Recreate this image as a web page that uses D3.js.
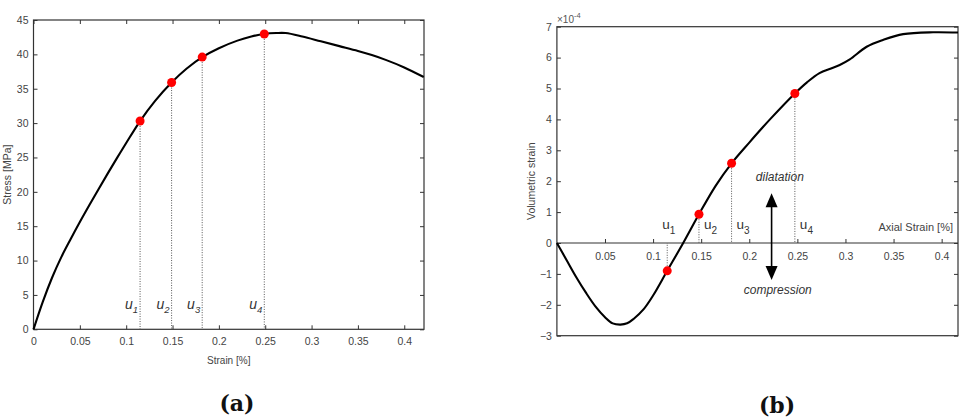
<!DOCTYPE html>
<html>
<head>
<meta charset="utf-8">
<script src="https://cdn.jsdelivr.net/npm/d3@7"></script>
<style>
  body { margin: 0; background: #fff; }
  svg { display: block; font-family: "Liberation Sans", Arial, sans-serif; }
  .tick text { fill: #444; font-size: 10.5px; }
  .tick line { stroke: #333; }
  .panel-tag { font-family: "DejaVu Serif", serif; font-weight: bold; }
</style>
</head>
<body>
<svg id="chart" width="966" height="418"></svg>
<script>
// (a) stress - strain curve
var strainA = [0, 0.01, 0.02, 0.03, 0.04, 0.05, 0.06, 0.07, 0.08, 0.09, 0.1, 0.115, 0.131, 0.149, 0.165, 0.182, 0.2, 0.22, 0.235, 0.249, 0.262, 0.272, 0.29, 0.31, 0.33, 0.35, 0.365, 0.38, 0.40, 0.421];
var stressA = [0, 4.0, 7.5, 10.5, 13.1, 15.6, 18.0, 20.35, 22.65, 24.9, 27.1, 30.3, 33.2, 35.9, 37.9, 39.6, 40.9, 42, 42.6, 42.97, 43.1, 43.1, 42.6, 41.9, 41.2, 40.5, 39.9, 39.2, 38.1, 36.7];
var uStrainA = [0.115, 0.149, 0.182, 0.249];
var uStressA = [30.3, 35.9, 39.6, 42.97];

// (b) volumetric strain (x 1e-4) vs axial strain
var strainB = [0, 0.01, 0.02, 0.03, 0.04, 0.05, 0.058, 0.066, 0.073, 0.08, 0.09, 0.1, 0.1147, 0.1313, 0.1477, 0.165, 0.1816, 0.2, 0.2215, 0.2474, 0.26, 0.273, 0.285, 0.294, 0.3045, 0.322, 0.339, 0.36, 0.391, 0.417];
var volB    = [0, -0.55, -1.1, -1.6, -2.05, -2.4, -2.6, -2.64, -2.6, -2.45, -2.15, -1.7, -0.9, 0, 0.93, 1.85, 2.58, 3.25, 4.0, 4.84, 5.2, 5.5, 5.65, 5.76, 5.94, 6.35, 6.57, 6.76, 6.82, 6.81];
var uStrainB = [0.1147, 0.1477, 0.1816, 0.2474];
var uVolB = [-0.9, 0.93, 2.58, 4.84];

var uLabels = ["1", "2", "3", "4"];
var ticksXA = [0, 0.05, 0.1, 0.15, 0.2, 0.25, 0.3, 0.35, 0.4];
var ticksYA = [0, 5, 10, 15, 20, 25, 30, 35, 40, 45];
var ticksXB = [0.05, 0.1, 0.15, 0.2, 0.25, 0.3, 0.35, 0.4];
var ticksYB = [-3, -2, -1, 0, 1, 2, 3, 4, 5, 6, 7];

var svg = d3.select("#chart");
var fmt = function(d) { return String(+d.toFixed(2)); };

function cleanAxis(g) {
    g.select(".domain").remove();
}

// ---------- panel (a) ----------
var xA = d3.scaleLinear().domain([0, 0.4213]).range([33.5, 424]);
var yA = d3.scaleLinear().domain([0, 45]).range([329.3, 20]);

var gA = svg.append("g");

gA.append("g").attr("transform", "translate(0," + yA(0) + ")")
    .call(d3.axisBottom(xA).tickValues(ticksXA).tickFormat(fmt).tickSize(-4).tickPadding(8))
    .call(cleanAxis);
gA.append("g").attr("transform", "translate(0," + yA(45) + ")")
    .call(d3.axisTop(xA).tickValues(ticksXA).tickFormat("").tickSize(-4))
    .call(cleanAxis);
gA.append("g").attr("transform", "translate(" + xA(0) + ",0)")
    .call(d3.axisLeft(yA).tickValues(ticksYA).tickSize(-4).tickPadding(5))
    .call(cleanAxis);
gA.append("g").attr("transform", "translate(" + xA.range()[1] + ",0)")
    .call(d3.axisRight(yA).tickValues(ticksYA).tickFormat("").tickSize(-4))
    .call(cleanAxis);

gA.append("rect")
    .attr("x", xA.range()[0]).attr("y", yA.range()[1])
    .attr("width", xA.range()[1] - xA.range()[0])
    .attr("height", yA.range()[0] - yA.range()[1])
    .attr("fill", "none").attr("stroke", "#333").attr("stroke-width", 1.2);

// dotted markers
gA.selectAll(".vline").data(uStrainA).enter().append("line")
    .attr("x1", d => xA(d)).attr("x2", d => xA(d))
    .attr("y1", (d, i) => yA(uStressA[i])).attr("y2", yA(0))
    .attr("stroke", "#555").attr("stroke-width", 1).attr("stroke-dasharray", "1,1.5");

var lineA = d3.line().x((d, i) => xA(strainA[i])).y(d => yA(d)).curve(d3.curveCatmullRom.alpha(0.5));
gA.append("path").datum(stressA).attr("d", lineA)
    .attr("fill", "none").attr("stroke", "#000").attr("stroke-width", 2.1);

gA.selectAll(".dot").data(uStrainA).enter().append("circle")
    .attr("cx", d => xA(d)).attr("cy", (d, i) => yA(uStressA[i])).attr("r", 4.5)
    .attr("fill", "#ff0000");

var uA = gA.selectAll(".ulab").data(uLabels).enter().append("text")
    .attr("x", (d, i) => xA(uStrainA[i]) - 2).attr("y", 308.5)
    .attr("text-anchor", "end").attr("font-style", "italic")
    .attr("font-size", 14).attr("fill", "#333")
    .text("u");
uA.append("tspan").attr("dy", 4).attr("font-size", 9.5).text(d => d);

gA.append("text").attr("x", (xA.range()[0] + xA.range()[1]) / 2).attr("y", 364)
    .attr("text-anchor", "middle").attr("font-size", 10).attr("fill", "#444")
    .text("Strain [%]");
gA.append("text").attr("transform", "translate(11," + (yA.range()[0] + yA.range()[1]) / 2 + ") rotate(-90)")
    .attr("text-anchor", "middle").attr("font-size", 10.5).attr("fill", "#444")
    .text("Stress [MPa]");

svg.append("text").attr("class", "panel-tag").attr("x", 237).attr("y", 411)
    .attr("text-anchor", "middle").attr("font-size", 22).attr("fill", "#111")
    .text("(a)");

// ---------- panel (b) ----------
var xB = d3.scaleLinear().domain([0, 0.417]).range([556.9, 958]);
var yB = d3.scaleLinear().domain([-3, 7]).range([335.7, 26.7]);

var gB = svg.append("g");

gB.append("g").attr("transform", "translate(0," + yB(0) + ")")
    .call(d3.axisBottom(xB).tickValues(ticksXB).tickFormat(fmt).tickSize(-4).tickPadding(10))
    .call(cleanAxis);
gB.append("line")
    .attr("x1", xB.range()[0]).attr("x2", xB.range()[1])
    .attr("y1", yB(0)).attr("y2", yB(0))
    .attr("stroke", "#333").attr("stroke-width", 1.2);
gB.append("g").attr("transform", "translate(" + xB(0) + ",0)")
    .call(d3.axisLeft(yB).tickValues(ticksYB).tickSize(-4).tickPadding(5))
    .call(cleanAxis);
gB.append("g").attr("transform", "translate(" + xB.range()[1] + ",0)")
    .call(d3.axisRight(yB).tickValues(ticksYB).tickFormat("").tickSize(-4))
    .call(cleanAxis);

gB.append("rect")
    .attr("x", xB.range()[0]).attr("y", yB.range()[1])
    .attr("width", xB.range()[1] - xB.range()[0])
    .attr("height", yB.range()[0] - yB.range()[1])
    .attr("fill", "none").attr("stroke", "#333").attr("stroke-width", 1.2);

gB.selectAll(".vline").data(uStrainB).enter().append("line")
    .attr("x1", d => xB(d)).attr("x2", d => xB(d))
    .attr("y1", (d, i) => yB(uVolB[i])).attr("y2", yB(0))
    .attr("stroke", "#555").attr("stroke-width", 1).attr("stroke-dasharray", "1,1.5");

var lineB = d3.line().x((d, i) => xB(strainB[i])).y(d => yB(d)).curve(d3.curveCatmullRom.alpha(0.5));
gB.append("path").datum(volB).attr("d", lineB)
    .attr("fill", "none").attr("stroke", "#000").attr("stroke-width", 2.1);

gB.selectAll(".dot").data(uStrainB).enter().append("circle")
    .attr("cx", d => xB(d)).attr("cy", (d, i) => yB(uVolB[i])).attr("r", 4.5)
    .attr("fill", "#ff0000");

var uB = gB.selectAll(".ulab").data(uLabels).enter().append("text")
    .attr("x", (d, i) => xB(uStrainB[i]) + (i === 0 ? -5 : 5)).attr("y", 228.5)
    .attr("font-size", 13.5).attr("fill", "#333")
    .text("u");
uB.append("tspan").attr("dy", 5).attr("font-size", 10).text(d => d);

gB.append("text").attr("x", 953).attr("y", 231)
    .attr("text-anchor", "end").attr("font-size", 11).attr("fill", "#444")
    .text("Axial Strain [%]");
gB.append("text").attr("transform", "translate(535," + (yB.range()[0] + yB.range()[1]) / 2 + ") rotate(-90)")
    .attr("text-anchor", "middle").attr("font-size", 10.5).attr("fill", "#444")
    .text("Volumetric strain");

var expo = gB.append("text").attr("x", 557).attr("y", 22.5)
    .attr("font-size", 10).attr("fill", "#555").text("\u00d710");
expo.append("tspan").attr("dy", -5).attr("font-size", 7.5).text("-4");

// dilatation / compression arrow
var ax = xB(0.2232);
var yTop = yB(1.61), yBot = yB(-1.2);
gB.append("line").attr("x1", ax).attr("x2", ax).attr("y1", yTop + 10).attr("y2", yBot - 10)
    .attr("stroke", "#000").attr("stroke-width", 1.6);
gB.append("path")
    .attr("d", "M" + ax + "," + yTop + "L" + (ax - 6) + "," + (yTop + 14) + "L" + (ax + 6) + "," + (yTop + 14) + "Z")
    .attr("fill", "#000");
gB.append("path")
    .attr("d", "M" + ax + "," + yBot + "L" + (ax - 6) + "," + (yBot - 14) + "L" + (ax + 6) + "," + (yBot - 14) + "Z")
    .attr("fill", "#000");

gB.append("text").attr("x", xB(0.2318)).attr("y", yB(2.15) + 4)
    .attr("text-anchor", "middle").attr("font-style", "italic").attr("font-size", 12).attr("fill", "#333")
    .text("dilatation");
gB.append("text").attr("x", xB(0.2296)).attr("y", yB(-1.52) + 4)
    .attr("text-anchor", "middle").attr("font-style", "italic").attr("font-size", 12).attr("fill", "#333")
    .text("compression");

svg.append("text").attr("class", "panel-tag").attr("x", 777).attr("y", 413)
    .attr("text-anchor", "middle").attr("font-size", 22).attr("fill", "#111")
    .text("(b)");
</script>
</body>
</html>
